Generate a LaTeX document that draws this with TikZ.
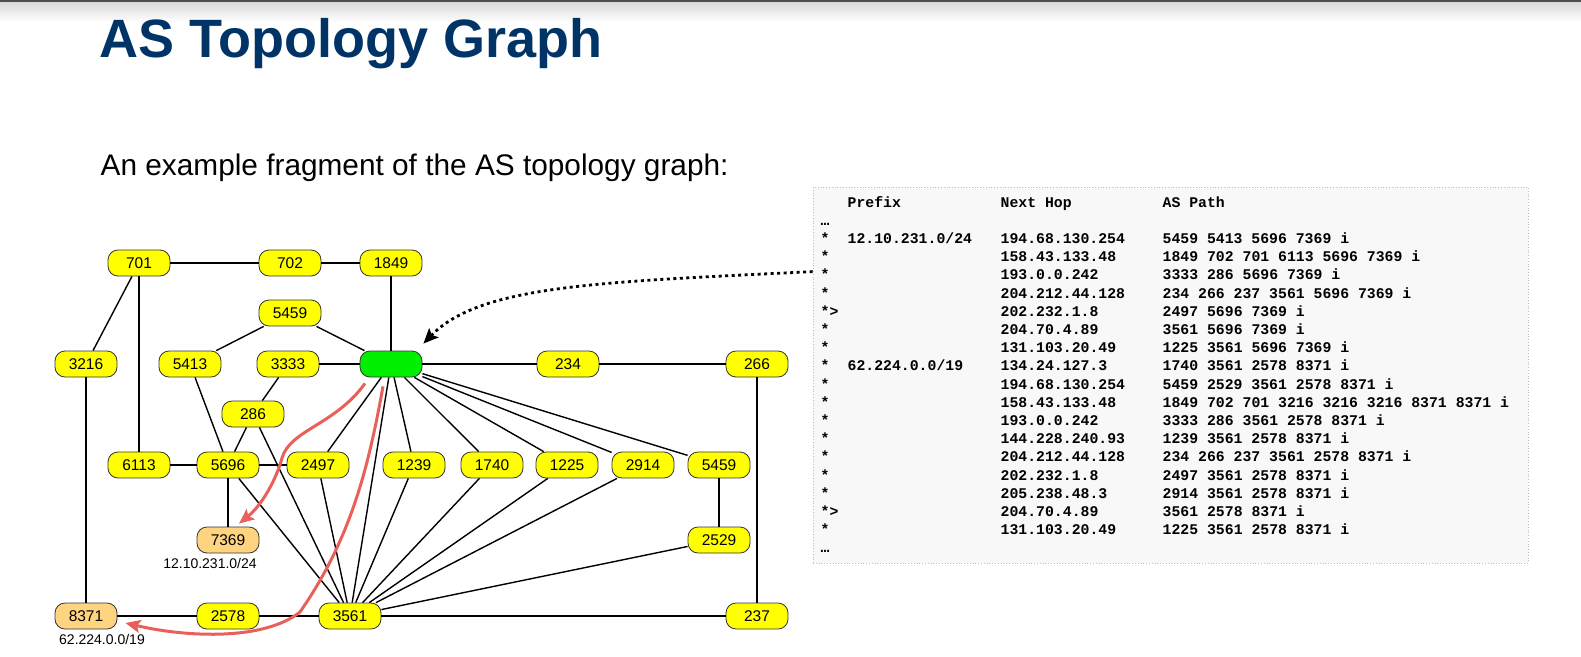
\documentclass[tikz,border=0pt]{standalone}
\usepackage{fontspec}
\setmainfont{Liberation Sans}
\newfontfamily\ribfont{Liberation Mono}
\usetikzlibrary{positioning, arrows.meta}
\definecolor{titleblue}{RGB}{0,51,102}
\definecolor{asyellow}{RGB}{255,255,0}
\definecolor{asorange}{RGB}{255,212,128}
\definecolor{asgreen}{RGB}{0,240,0}
\definecolor{routered}{RGB}{233,96,90}
\definecolor{ribgray}{RGB}{248,248,248}
\tikzset{
  astopo/.style={
	x=1pt, y=-1pt, % one unit is one pixel of the slide, y runs downwards
	line width=1.4pt, % the links between the ASes
	node distance=4pt, % gap between a stub AS and its prefix
  },
  as/.style={draw=black!80, line width=0.8pt, fill=asyellow, rounded corners=10pt,
	minimum width=62pt, minimum height=26pt, inner sep=0pt,
	font=\fontsize{15.5}{16}\selectfont},
  stub/.style={as, fill=asorange}, % origin ASes of the two prefixes
  pfxlabel/.style={inner sep=0pt, font=\fontsize{14}{16}\selectfont},
  route/.style={draw=routered, line width=3pt, -{Stealth[length=15pt, width=13pt, inset=3pt]}},
  lookup/.style={draw, line width=2.8pt, dash pattern=on 3pt off 3.5pt,
	-{Stealth[length=15pt, width=13pt, inset=3pt]}},
}

\begin{document}
\begin{tikzpicture}[astopo]
\useasboundingbox (0,0) rectangle (1581,656);
\fill[black!70] (0,0) rectangle (1581,2);
\shade[top color=black!15, bottom color=white] (0,2) rectangle (1581,22);

\node[anchor=base west, inner sep=0pt, text=titleblue, font=\bfseries\fontsize{54}{60}\selectfont] (title) at (99,57) {AS Topology Graph};
\node[anchor=base west, inner sep=0pt, font=\fontsize{29.8}{34}\selectfont] (intro) at (100,175) {An example fragment of the AS topology graph:};

% the ASes
\node[as] (as701) at (139,263) {701};
\node[as] (as702) at (290,263) {702};
\node[as] (as1849) at (391,263) {1849};
\node[as] (as5459a) at (290,313) {5459};
\node[as] (as3216) at (86,364) {3216};
\node[as] (as5413) at (190,364) {5413};
\node[as] (as3333) at (288,364) {3333};
\node[as, fill=asgreen] (home) at (391,364) {};
\node[as] (as234) at (568,364) {234};
\node[as] (as266) at (757,364) {266};
\node[as] (as286) at (253,414) {286};
\node[as] (as6113) at (139,465) {6113};
\node[as] (as5696) at (228,465) {5696};
\node[as] (as2497) at (318,465) {2497};
\node[as] (as1239) at (414,465) {1239};
\node[as] (as1740) at (492,465) {1740};
\node[as] (as1225) at (567,465) {1225};
\node[as] (as2914) at (643,465) {2914};
\node[as] (as5459b) at (719,465) {5459};
\node[stub] (as7369) at (228,540) {7369};
\node[as] (as2529) at (719,540) {2529};
\node[stub] (as8371) at (86,616) {8371};
\node[as] (as2578) at (228,616) {2578};
\node[as] (as3561) at (350,616) {3561};
\node[as] (as237) at (757,616) {237};

\node[pfxlabel, below=of as7369, xshift=-18pt] (pfx7369) {12.10.231.0/24};
\node[pfxlabel, below=of as8371, xshift=16pt] (pfx8371) {62.224.0.0/19};

\draw   (as701) edge (as702)
	(as702) edge (as1849)
	(as1849) edge (home)
	(as701) edge (as3216)
	(as701) edge (as6113)
	(as3216) edge (as8371)
	(as5459a) edge (as5413)
	(as5459a) edge (home)
	(as3333) edge (home)
	(as3333) edge (as286)
	(as5413) edge (as5696)
	(as286) edge (as5696)
	(as286) edge (as3561)
	(as6113) edge (as5696)
	(as5696) edge (as2497)
	(as5696) edge (as7369)
	(as5696) edge (as3561)
	(as2497) edge (home)
	(as2497) edge (as3561)
	(home) edge (as1239)
	(home) edge (as1740)
	(home) edge (as1225)
	(home) edge (as2914)
	(home) edge (as5459b)
	(home) edge (as234)
	(home) edge (as3561)
	(as234) edge (as266)
	(as266) edge (as237)
	(as1239) edge (as3561)
	(as1740) edge (as3561)
	(as1225) edge (as3561)
	(as2914) edge (as3561)
	(as5459b) edge (as2529)
	(as2529) edge (as3561)
	(as237) edge (as3561)
	(as8371) edge (as2578)
	(as2578) edge (as3561)
;

% the routing table of the green AS
\node[draw=black!25, dotted, line width=0.8pt, fill=ribgray, minimum width=715pt, minimum height=376pt, inner sep=0pt] (rib) at (1170.5,375) {};
\node[anchor=base west, inner sep=0pt, font=\ribfont\bfseries\fontsize{14.8}{18.2}\selectfont] (ribtab) at (820,207) {%
\begin{tabular}[t]{@{}p{27pt}@{}p{153pt}@{}p{162pt}@{}l@{}}
 & Prefix & Next Hop & AS Path\\
… & & & \\
{*} & 12.10.231.0/24 & 194.68.130.254 & 5459 5413 5696 7369 i\\
{*} & & 158.43.133.48 & 1849 702 701 6113 5696 7369 i\\
{*} & & 193.0.0.242 & 3333 286 5696 7369 i\\
{*} & & 204.212.44.128 & 234 266 237 3561 5696 7369 i\\
{*}> & & 202.232.1.8 & 2497 5696 7369 i\\
{*} & & 204.70.4.89 & 3561 5696 7369 i\\
{*} & & 131.103.20.49 & 1225 3561 5696 7369 i\\
{*} & 62.224.0.0/19 & 134.24.127.3 & 1740 3561 2578 8371 i\\
{*} & & 194.68.130.254 & 5459 2529 3561 2578 8371 i\\
{*} & & 158.43.133.48 & 1849 702 701 3216 3216 3216 8371 8371 i\\
{*} & & 193.0.0.242 & 3333 286 3561 2578 8371 i\\
{*} & & 144.228.240.93 & 1239 3561 2578 8371 i\\
{*} & & 204.212.44.128 & 234 266 237 3561 2578 8371 i\\
{*} & & 202.232.1.8 & 2497 3561 2578 8371 i\\
{*} & & 205.238.48.3 & 2914 3561 2578 8371 i\\
{*}> & & 204.70.4.89 & 3561 2578 8371 i\\
{*} & & 131.103.20.49 & 1225 3561 2578 8371 i\\
… & & & \\
\end{tabular}};

% routes towards the two prefixes
\draw[route] ([xshift=-26pt,yshift=-6pt]home.south) .. controls (335,425) and (290,430) .. (282,458)
	.. controls (276,480) and (262,505) .. ([xshift=11pt,yshift=3pt]as7369.north);
\draw[route] ([xshift=-8pt,yshift=-9pt]home.south) .. controls (368,470) and (350,540) .. (300,612)
	.. controls (265,640) and (190,638) .. ([xshift=8pt,yshift=-7pt]as8371.east);
\draw[lookup] ([yshift=-85pt]rib.north west) .. controls (600,282) and (480,285) .. ([xshift=1pt,yshift=7pt]home.north east);
\end{tikzpicture}
\end{document}
